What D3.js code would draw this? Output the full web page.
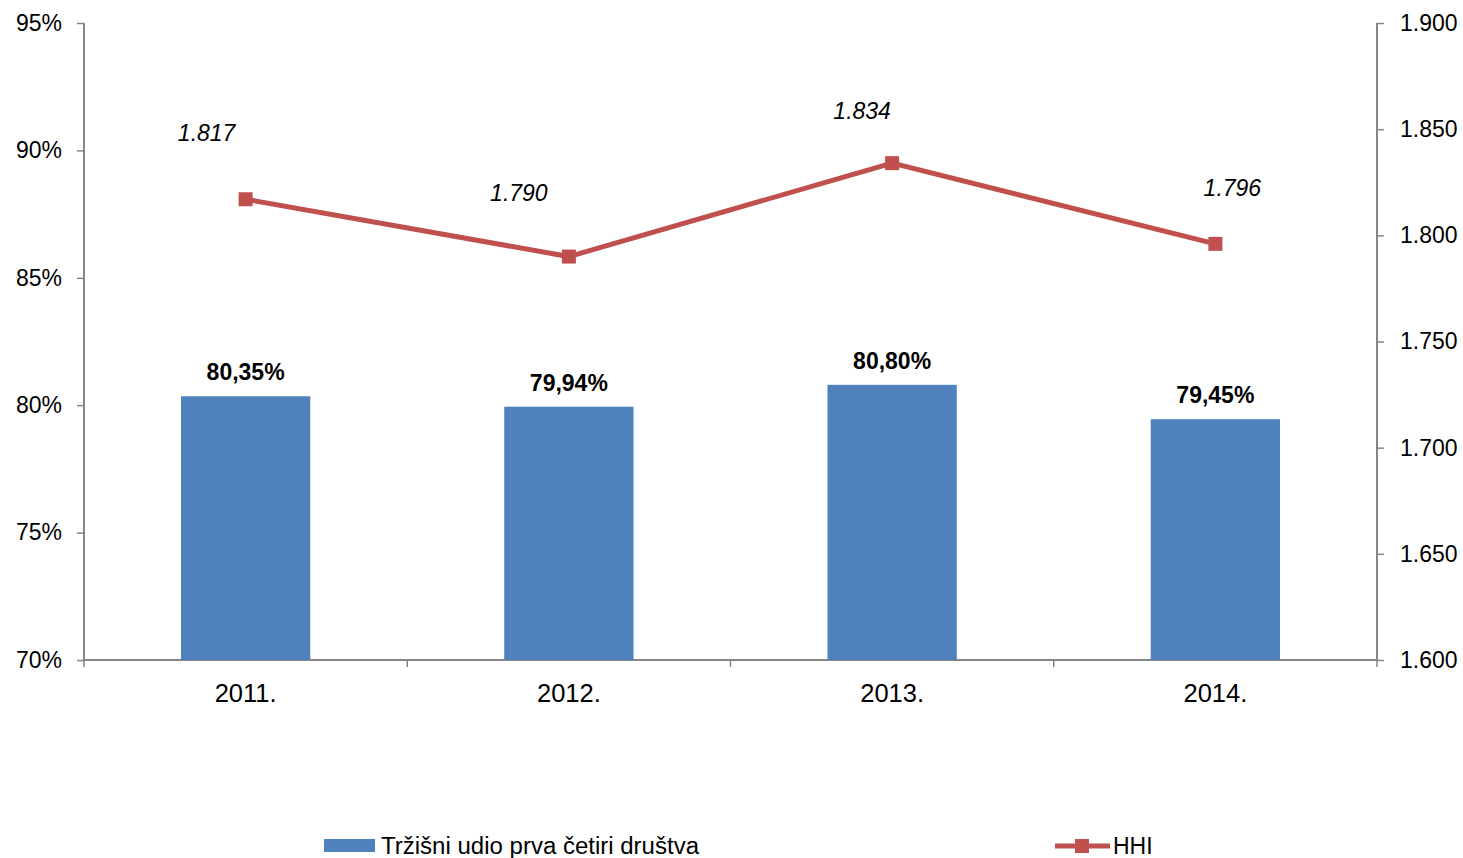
<!DOCTYPE html>
<html><head><meta charset="utf-8">
<script src="https://cdn.jsdelivr.net/npm/d3@7"></script>
<style>body{margin:0;background:#fff}svg{display:block;font-family:"Liberation Sans",Arial,sans-serif}</style>
</head><body>
<svg id="c" width="1463" height="858"></svg>
<script>
const categories = ["2011.", "2012.", "2013.", "2014."];
const shareValues = [80.35, 79.94, 80.80, 79.45];
const shareLabels = ["80,35%", "79,94%", "80,80%", "79,45%"];
const hhiValues = [1.817, 1.790, 1.834, 1.796];
const hhiLabels = ["1.817", "1.790", "1.834", "1.796"];
const leftTicks = [70, 75, 80, 85, 90, 95];
const rightTicks = [1.600, 1.650, 1.700, 1.750, 1.800, 1.850, 1.900];
const seriesNames = ["Tržišni udio prva četiri društva", "HHI"];
// label offsets (layout only)
const hhiLabelDx = [-39, -50, -30, 17];
const hhiLabelDy = [-58, -56, -44, -48];

const svg = d3.select("#c");
const L = 84, R = 1377, T = 23, B = 660;
const axisColor = "#868686", barColor = "#4F81BD", lineColor = "#C0504D";

const x = d3.scaleBand().domain(categories).range([L, R]).paddingInner(0).paddingOuter(0);
const yL = d3.scaleLinear().domain([70, 95]).range([B, T]);
const yR = d3.scaleLinear().domain([1.6, 1.9]).range([B, T]);

// left axis
const gL = svg.append("g").attr("transform", `translate(${L},0)`)
  .call(d3.axisLeft(yL).tickValues(leftTicks).tickSize(7).tickPadding(15).tickFormat(d => d + "%"));
// right axis
const gR = svg.append("g").attr("transform", `translate(${R},0)`)
  .call(d3.axisRight(yR).tickValues(rightTicks).tickSize(7).tickPadding(16).tickFormat(d => d3.format(".3f")(d)));
// bottom axis
const gB = svg.append("g").attr("transform", `translate(0,${B})`)
  .call(d3.axisBottom(x).tickSize(0).tickPadding(0));
[gL, gR, gB].forEach(g => {
  g.selectAll("path.domain").attr("stroke", axisColor).attr("stroke-width", 2);
  g.selectAll(".tick line").attr("stroke", axisColor).attr("stroke-width", 1.5);
  g.selectAll("text").attr("font-size", 23).attr("fill", "#000").attr("font-family", "Liberation Sans, Arial, sans-serif");
});
gB.selectAll(".tick text").attr("font-size", 25.5).attr("dy", 0).attr("y", 42);
gL.select("path.domain").attr("d", `M0,${T}V${B}`);
gR.select("path.domain").attr("d", `M0,${T}V${B}`);
gB.select("path.domain").attr("d", `M${L},0H${R}`);
// category boundary ticks
const bounds = categories.map(c => x(c)).concat([R]);
svg.append("g").selectAll("line").data(bounds).join("line")
  .attr("x1", d => d).attr("x2", d => d).attr("y1", B).attr("y2", B + 7)
  .attr("stroke", axisColor).attr("stroke-width", 1.5);

// bars
const bw = x.bandwidth() * 0.4;
svg.append("g").selectAll("rect").data(shareValues).join("rect")
  .attr("x", (d, i) => x(categories[i]) + x.bandwidth() / 2 - bw / 2)
  .attr("y", d => yL(d)).attr("width", bw).attr("height", d => B - yL(d))
  .attr("fill", barColor);
svg.append("g").selectAll("text").data(shareValues).join("text")
  .attr("x", (d, i) => x(categories[i]) + x.bandwidth() / 2)
  .attr("y", d => yL(d) - 16)
  .attr("text-anchor", "middle").attr("font-size", 23).attr("font-weight", "bold")
  .text((d, i) => shareLabels[i]);

// line
const cx = i => x(categories[i]) + x.bandwidth() / 2;
svg.append("path").datum(hhiValues)
  .attr("d", d3.line().x((d, i) => cx(i)).y(d => yR(d)))
  .attr("fill", "none").attr("stroke", lineColor).attr("stroke-width", 5);
svg.append("g").selectAll("rect").data(hhiValues).join("rect")
  .attr("x", (d, i) => cx(i) - 7).attr("y", d => yR(d) - 7)
  .attr("width", 14).attr("height", 14).attr("fill", lineColor);
svg.append("g").selectAll("text").data(hhiValues).join("text")
  .attr("x", (d, i) => cx(i) + hhiLabelDx[i])
  .attr("y", (d, i) => yR(d) + hhiLabelDy[i])
  .attr("text-anchor", "middle").attr("font-size", 23).attr("font-style", "italic")
  .text((d, i) => hhiLabels[i]);

// legend
const lg = svg.append("g");
lg.append("rect").attr("x", 324).attr("y", 839).attr("width", 51).attr("height", 13).attr("fill", barColor);
lg.append("text").attr("x", 381).attr("y", 854).attr("font-size", 23).attr("textLength", 318)
  .attr("lengthAdjust", "spacingAndGlyphs").text(seriesNames[0]);
lg.append("line").attr("x1", 1055).attr("x2", 1110).attr("y1", 846).attr("y2", 846)
  .attr("stroke", lineColor).attr("stroke-width", 5);
lg.append("rect").attr("x", 1075).attr("y", 839).attr("width", 14).attr("height", 14).attr("fill", lineColor);
lg.append("text").attr("x", 1113).attr("y", 854).attr("font-size", 23).text(seriesNames[1]);
</script>
</body></html>
